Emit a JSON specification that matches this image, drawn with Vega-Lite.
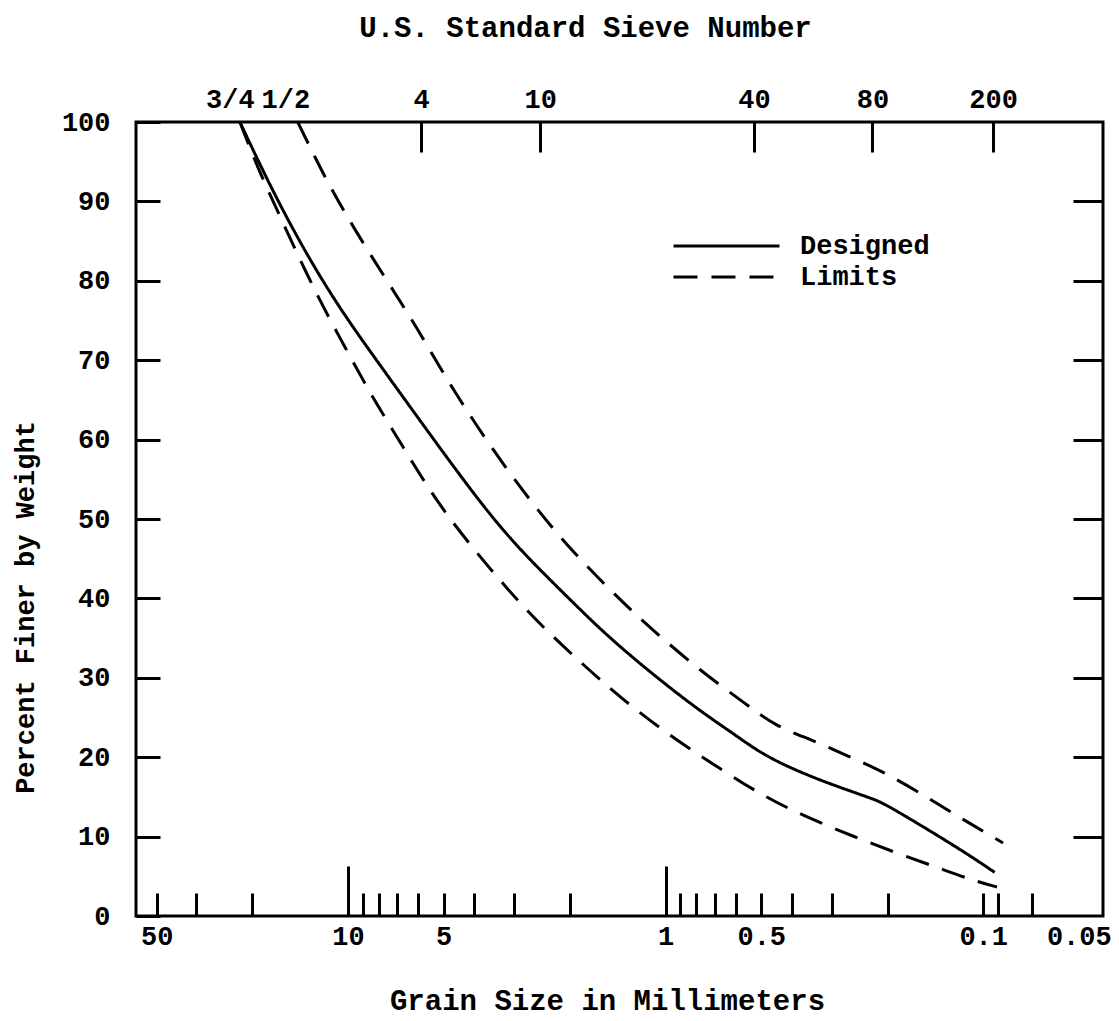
{
  "$schema": "https://vega.github.io/schema/vega-lite/v6.json",
  "width": 967,
  "height": 794,
  "autosize": {"type": "none"},
  "padding": {"left": 136, "top": 122, "right": 16, "bottom": 105},
  "background": "white",
  "datasets": {
    "curves": [
      {"curve": "Designed", "series": "Designed", "size_mm": 21.9, "percent": 100},
      {"curve": "Designed", "series": "Designed", "size_mm": 17.2, "percent": 91.1},
      {"curve": "Designed", "series": "Designed", "size_mm": 13.2, "percent": 82.6},
      {"curve": "Designed", "series": "Designed", "size_mm": 10.4, "percent": 76.0},
      {"curve": "Designed", "series": "Designed", "size_mm": 8.34, "percent": 70.6},
      {"curve": "Designed", "series": "Designed", "size_mm": 6.24, "percent": 63.6},
      {"curve": "Designed", "series": "Designed", "size_mm": 3.76, "percent": 51.5},
      {"curve": "Designed", "series": "Designed", "size_mm": 2.81, "percent": 45.7},
      {"curve": "Designed", "series": "Designed", "size_mm": 2.10, "percent": 40.7},
      {"curve": "Designed", "series": "Designed", "size_mm": 1.57, "percent": 35.7},
      {"curve": "Designed", "series": "Designed", "size_mm": 1.12, "percent": 30.7},
      {"curve": "Designed", "series": "Designed", "size_mm": 0.779, "percent": 25.8},
      {"curve": "Designed", "series": "Designed", "size_mm": 0.613, "percent": 23.0},
      {"curve": "Designed", "series": "Designed", "size_mm": 0.494, "percent": 20.3},
      {"curve": "Designed", "series": "Designed", "size_mm": 0.377, "percent": 18.1},
      {"curve": "Designed", "series": "Designed", "size_mm": 0.297, "percent": 16.5},
      {"curve": "Designed", "series": "Designed", "size_mm": 0.232, "percent": 15.0},
      {"curve": "Designed", "series": "Designed", "size_mm": 0.211, "percent": 14.4},
      {"curve": "Designed", "series": "Designed", "size_mm": 0.183, "percent": 13.0},
      {"curve": "Designed", "series": "Designed", "size_mm": 0.144, "percent": 10.5},
      {"curve": "Designed", "series": "Designed", "size_mm": 0.113, "percent": 7.9},
      {"curve": "Designed", "series": "Designed", "size_mm": 0.092, "percent": 5.5},
      {"curve": "Upper limit", "series": "Limits", "size_mm": 14.4, "percent": 100},
      {"curve": "Upper limit", "series": "Limits", "size_mm": 13.2, "percent": 96.9},
      {"curve": "Upper limit", "series": "Limits", "size_mm": 11.6, "percent": 92.4},
      {"curve": "Upper limit", "series": "Limits", "size_mm": 9.65, "percent": 86.8},
      {"curve": "Upper limit", "series": "Limits", "size_mm": 7.65, "percent": 80.4},
      {"curve": "Upper limit", "series": "Limits", "size_mm": 6.06, "percent": 74.1},
      {"curve": "Upper limit", "series": "Limits", "size_mm": 4.95, "percent": 67.9},
      {"curve": "Upper limit", "series": "Limits", "size_mm": 3.65, "percent": 59.7},
      {"curve": "Upper limit", "series": "Limits", "size_mm": 2.64, "percent": 52.0},
      {"curve": "Upper limit", "series": "Limits", "size_mm": 1.96, "percent": 45.8},
      {"curve": "Upper limit", "series": "Limits", "size_mm": 1.39, "percent": 39.8},
      {"curve": "Upper limit", "series": "Limits", "size_mm": 1.12, "percent": 36.3},
      {"curve": "Upper limit", "series": "Limits", "size_mm": 0.768, "percent": 30.7},
      {"curve": "Upper limit", "series": "Limits", "size_mm": 0.562, "percent": 26.8},
      {"curve": "Upper limit", "series": "Limits", "size_mm": 0.452, "percent": 23.9},
      {"curve": "Upper limit", "series": "Limits", "size_mm": 0.346, "percent": 22.2},
      {"curve": "Upper limit", "series": "Limits", "size_mm": 0.263, "percent": 20.0},
      {"curve": "Upper limit", "series": "Limits", "size_mm": 0.211, "percent": 18.4},
      {"curve": "Upper limit", "series": "Limits", "size_mm": 0.149, "percent": 14.9},
      {"curve": "Upper limit", "series": "Limits", "size_mm": 0.112, "percent": 11.8},
      {"curve": "Upper limit", "series": "Limits", "size_mm": 0.0866, "percent": 9.2},
      {"curve": "Lower limit", "series": "Limits", "size_mm": 21.9, "percent": 100},
      {"curve": "Lower limit", "series": "Limits", "size_mm": 19.3, "percent": 94.3},
      {"curve": "Lower limit", "series": "Limits", "size_mm": 16.7, "percent": 88.9},
      {"curve": "Lower limit", "series": "Limits", "size_mm": 14.5, "percent": 83.5},
      {"curve": "Lower limit", "series": "Limits", "size_mm": 12.3, "percent": 77.6},
      {"curve": "Lower limit", "series": "Limits", "size_mm": 10.6, "percent": 72.8},
      {"curve": "Lower limit", "series": "Limits", "size_mm": 8.97, "percent": 67.5},
      {"curve": "Lower limit", "series": "Limits", "size_mm": 8.10, "percent": 64.4},
      {"curve": "Lower limit", "series": "Limits", "size_mm": 6.86, "percent": 59.7},
      {"curve": "Lower limit", "series": "Limits", "size_mm": 5.25, "percent": 52.1},
      {"curve": "Lower limit", "series": "Limits", "size_mm": 4.04, "percent": 46.3},
      {"curve": "Lower limit", "series": "Limits", "size_mm": 3.14, "percent": 41.1},
      {"curve": "Lower limit", "series": "Limits", "size_mm": 2.43, "percent": 36.3},
      {"curve": "Lower limit", "series": "Limits", "size_mm": 1.79, "percent": 31.4},
      {"curve": "Lower limit", "series": "Limits", "size_mm": 1.36, "percent": 27.2},
      {"curve": "Lower limit", "series": "Limits", "size_mm": 0.948, "percent": 22.4},
      {"curve": "Lower limit", "series": "Limits", "size_mm": 0.665, "percent": 18.4},
      {"curve": "Lower limit", "series": "Limits", "size_mm": 0.497, "percent": 15.2},
      {"curve": "Lower limit", "series": "Limits", "size_mm": 0.372, "percent": 12.7},
      {"curve": "Lower limit", "series": "Limits", "size_mm": 0.263, "percent": 10.2},
      {"curve": "Lower limit", "series": "Limits", "size_mm": 0.187, "percent": 7.9},
      {"curve": "Lower limit", "series": "Limits", "size_mm": 0.137, "percent": 6.0},
      {"curve": "Lower limit", "series": "Limits", "size_mm": 0.108, "percent": 4.5},
      {"curve": "Lower limit", "series": "Limits", "size_mm": 0.0905, "percent": 3.65}
    ],
    "sieves": [
      {"sieve": "3/4 in.", "opening_mm": 19.0},
      {"sieve": "1/2 in.", "opening_mm": 12.7},
      {"sieve": "No. 4", "opening_mm": 4.75},
      {"sieve": "No. 10", "opening_mm": 2.0},
      {"sieve": "No. 40", "opening_mm": 0.425},
      {"sieve": "No. 80", "opening_mm": 0.18},
      {"sieve": "No. 200", "opening_mm": 0.075}
    ]
  },
  "config": {
    "font": "Liberation Mono",
    "view": {"stroke": "black", "strokeWidth": 3},
    "axis": {
      "domain": false,
      "grid": false,
      "tickColor": "black",
      "tickWidth": 3,
      "labelColor": "black",
      "labelFont": "Liberation Mono",
      "labelFontSize": 27,
      "labelFontWeight": "bold",
      "titleFont": "Liberation Mono",
      "titleFontSize": 29,
      "titleFontWeight": "bold",
      "titleColor": "black",
      "labelOverlap": false,
      "labelFlush": false,
      "labelBound": false
    }
  },
  "resolve": {"scale": {"x": "independent"}, "axis": {"y": "independent"}},
  "layer": [
    {
      "data": {"name": "curves"},
      "transform": [{"filter": "datum.series === 'Designed'"}],
      "mark": {"type": "line", "color": "black", "strokeWidth": 3, "interpolate": "basis"},
      "encoding": {
        "x": {
          "field": "size_mm", "type": "quantitative",
          "scale": {"type": "log", "domain": [0.04196, 46.51], "reverse": true, "nice": false},
          "axis": {
            "orient": "bottom",
            "values": [40, 10, 5, 1, 0.5, 0.1, 0.05],
            "labelExpr": "datum.value == 40 ? '50' : format(datum.value, '~g')",
            "ticks": false,
            "labelPadding": 7,
            "labelBaseline": "top",
            "title": "Grain Size in Millimeters",
            "titleX": 471, "titleY": 84, "titleBaseline": "middle", "titleAlign": "center"
          }
        },
        "y": {
          "field": "percent", "type": "quantitative",
          "scale": {"domain": [0, 100], "nice": false},
          "axis": {
            "orient": "left",
            "values": [0, 10, 20, 30, 40, 50, 60, 70, 80, 90, 100],
            "tickSize": -24,
            "labelPadding": 50,
            "title": "Percent Finer by Weight",
            "titleFontSize": 27,
            "titleX": -111, "titleY": 485, "titleAngle": -90,
            "titleBaseline": "middle", "titleAlign": "center"
          }
        },
        "strokeDash": {
          "field": "series", "type": "nominal",
          "scale": {"domain": ["Designed", "Limits"], "range": [[1, 0], [24, 14]]},
          "legend": {
            "title": null, "orient": "none", "legendX": 536, "legendY": 110,
            "symbolType": "stroke", "symbolSize": 11236, "symbolStrokeWidth": 3,
            "symbolStrokeColor": "black", "clipHeight": 28,
            "labelFont": "Liberation Mono", "labelFontSize": 27, "labelFontWeight": "bold", "labelColor": "black",
            "labelOffset": 19, "rowPadding": 3, "padding": 0
          }
        }
      }
    },
    {
      "data": {"name": "curves"},
      "transform": [{"filter": "datum.series === 'Limits'"}],
      "mark": {"type": "line", "color": "black", "strokeWidth": 3, "interpolate": "basis"},
      "encoding": {
        "x": {
          "field": "size_mm", "type": "quantitative",
          "scale": {"type": "log", "domain": [0.04196, 46.51], "reverse": true, "nice": false},
          "axis": {
            "orient": "bottom",
            "values": [40, 30, 20, 10, 9, 8, 7, 6, 5, 4, 3, 2, 1, 0.9, 0.8, 0.7, 0.6, 0.5, 0.4, 0.3, 0.2, 0.1, 0.09, 0.07],
            "labels": false,
            "tickSize": {"condition": {"test": "datum.value == 10 || datum.value == 1", "value": -50}, "value": -23},
            "title": null
          }
        },
        "y": {
          "field": "percent", "type": "quantitative",
          "scale": {"domain": [0, 100], "nice": false},
          "axis": {
            "orient": "right",
            "values": [10, 20, 30, 40, 50, 60, 70, 80, 90],
            "labels": false,
            "tickSize": -30,
            "title": null
          }
        },
        "detail": {"field": "curve", "type": "nominal"},
        "strokeDash": {
          "field": "series", "type": "nominal",
          "scale": {"domain": ["Designed", "Limits"], "range": [[1, 0], [24, 14]]},
          "legend": {
            "title": null, "orient": "none", "legendX": 536, "legendY": 110,
            "symbolType": "stroke", "symbolSize": 11236, "symbolStrokeWidth": 3,
            "symbolStrokeColor": "black", "clipHeight": 28,
            "labelFont": "Liberation Mono", "labelFontSize": 27, "labelFontWeight": "bold", "labelColor": "black",
            "labelOffset": 19, "rowPadding": 3, "padding": 0
          }
        }
      }
    },
    {
      "data": {"name": "sieves"},
      "mark": {"type": "point", "opacity": 0},
      "encoding": {
        "x": {
          "field": "opening_mm", "type": "quantitative",
          "scale": {"type": "log", "domain": [0.03382, 37.5], "reverse": true, "nice": false},
          "axis": {
            "orient": "top",
            "values": [19, 12.7, 4.75, 2, 0.425, 0.18, 0.075],
            "labelExpr": "datum.value == 19 ? '3/4' : datum.value == 12.7 ? '1/2' : datum.value == 4.75 ? '4' : datum.value == 2 ? '10' : datum.value == 0.425 ? '40' : datum.value == 0.18 ? '80' : '200'",
            "tickSize": -30,
            "tickOpacity": {"condition": {"test": "datum.value > 10", "value": 0}, "value": 1},
            "labelPadding": 39,
            "title": "U.S. Standard Sieve Number",
            "titleX": 449, "titleY": -95, "titleBaseline": "middle", "titleAlign": "center"
          }
        }
      }
    }
  ]
}
